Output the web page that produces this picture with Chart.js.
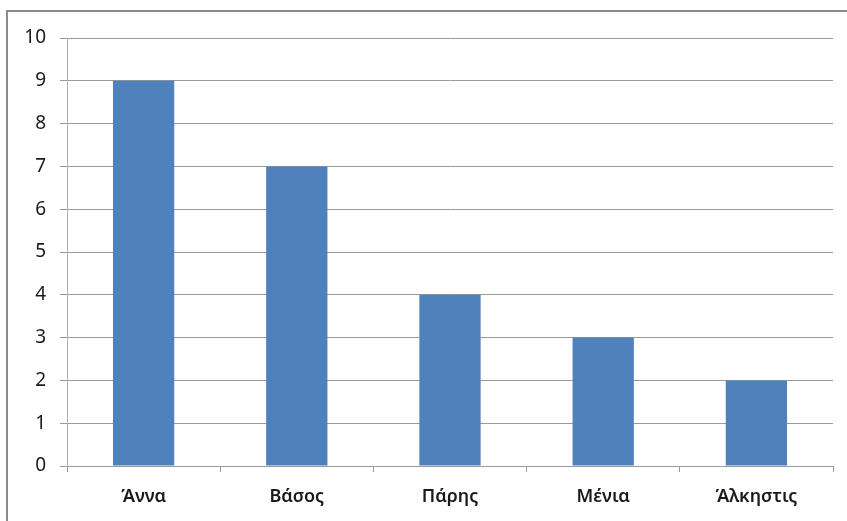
<!DOCTYPE html>
<html>
<head>
<meta charset="utf-8">
<script src="https://cdn.jsdelivr.net/npm/chart.js@4"></script>
<style>
  html, body { margin: 0; padding: 0; background: #fff; overflow: hidden; }
  .frame { position: absolute; left: 6px; top: 10px; width: 860px; height: 540px; border: 2px solid #8a8a8a; box-sizing: border-box; }
  .wrap { position: absolute; left: 0; top: 0; width: 847px; height: 521px; }
</style>
</head>
<body>
<div class="frame"></div>
<div class="wrap"><canvas id="chart" width="847" height="521"></canvas></div>
<script>
// === Données ===
const names = ['Άννα', 'Βάσος', 'Πάρης', 'Μένια', 'Άλκηστις'];
const values = [9, 7, 4, 3, 2];
const yTicks = [0, 1, 2, 3, 4, 5, 6, 7, 8, 9, 10];

const gridColor = '#9a9a9a';

const ctx = document.getElementById('chart').getContext('2d');
new Chart(ctx, {
  type: 'bar',
  data: {
    labels: names,
    datasets: [{
      data: values,
      backgroundColor: '#4f81bd',
      borderWidth: 0,
      categoryPercentage: 1,
      barPercentage: 0.4
    }]
  },
  options: {
    responsive: false,
    animation: false,
    layout: { padding: { top: 38, right: 14, left: 0, bottom: 0 } },
    plugins: { legend: { display: false }, tooltip: { enabled: false } },
    scales: {
      x: {
        afterFit: s => { s.height = 55; },
        grid: { offset: true, drawOnChartArea: false, drawTicks: true, tickLength: 6, color: gridColor },
        border: { display: true, color: gridColor },
        ticks: { color: '#1a1a1a', padding: 14, font: { family: 'Noto Sans', size: 18, weight: '600' } }
      },
      y: {
        min: 0,
        max: yTicks[yTicks.length - 1],
        afterFit: s => { s.width = 67; },
        afterBuildTicks: s => { s.ticks = yTicks.map(v => ({ value: v })); },
        grid: { color: gridColor, tickLength: 7, drawTicks: true },
        border: { display: true, color: '#b0b0b0' },
        ticks: { color: '#1a1a1a', padding: 14, font: { family: 'Noto Sans', size: 19 } }
      }
    }
  }
});
</script>
</body>
</html>
